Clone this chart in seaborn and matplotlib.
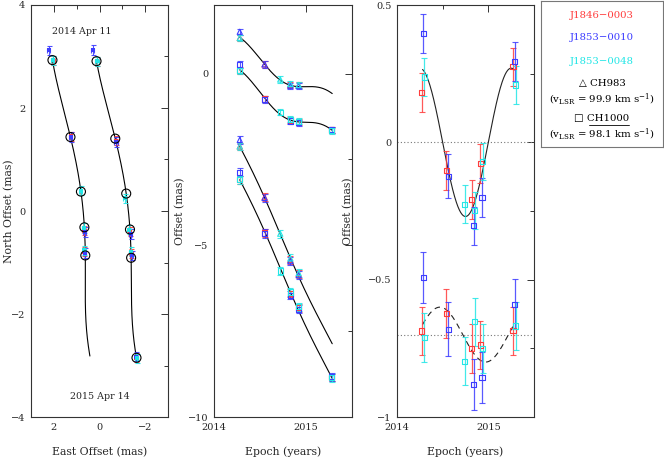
import numpy as np
import pandas as pd
import matplotlib
matplotlib.use("Agg")
import matplotlib.pyplot as plt
import seaborn as sns
from matplotlib.ticker import MultipleLocator, FuncFormatter

# ---------------- data ----------------
epochs = [2014.28, 2014.55, 2014.72, 2014.83, 2014.92, 2015.28]
sources = ["J1846\u22120003", "J1853\u22120010", "J1853\u22120048"]

# epochs (indices) at which each reference source gives a position
epoch_idx_ch1000 = [[0, 1, 3, 4, 5], [0, 1, 3, 4, 5], [0, 2, 3, 4, 5]]
epoch_idx_ch983 = [[0, 1, 3, 4], [0, 1, 3, 4], [0, 2, 3, 4]]

# Panel 2 : East / North offsets (mas) per reference source
ch983_east = [[1.04, 0.27, -0.32, -0.34],
              [1.22, 0.27, -0.35, -0.36],
              [1.04, -0.17, -0.30, -0.33]]
ch983_north = [[-2.12, -3.60, -5.42, -5.84],
               [-1.93, -3.62, -5.46, -5.87],
               [-2.12, -4.66, -5.38, -5.81]]
ch1000_east = [[0.09, -0.74, -1.35, -1.40, -1.64],
               [0.27, -0.75, -1.38, -1.43, -1.63],
               [0.09, -1.12, -1.33, -1.39, -1.66]]
ch1000_north = [[-3.09, -4.64, -6.40, -6.82, -8.85],
                [-2.87, -4.66, -6.45, -6.86, -8.83],
                [-3.09, -5.75, -6.36, -6.79, -8.86]]

# Panel 3 : residuals after removing proper motion (mas)
resid_east = [[0.182, -0.102, -0.208, -0.077, 0.275],
              [0.397, -0.123, -0.304, -0.201, 0.294],
              [0.238, -0.225, -0.249, -0.069, 0.209]]
resid_north = [[0.013, 0.077, -0.051, -0.038, 0.014],
               [0.207, 0.019, -0.182, -0.157, 0.111],
               [-0.011, -0.097, 0.047, -0.050, 0.031]]
err_east = [[0.07, 0.07, 0.07, 0.07, 0.07],
            [0.07, 0.08, 0.07, 0.07, 0.07],
            [0.068, 0.068, 0.068, 0.068, 0.068]]
err_north = [[0.088, 0.088, 0.088, 0.088, 0.088],
             [0.092, 0.098, 0.092, 0.093, 0.09],
             [0.088, 0.088, 0.088, 0.088, 0.088]]

# fitted model (parallax + proper motion), parameters
parallax_east_amp = 0.27      # mas
parallax_east_peak = 2014.25  # yr
parallax_north_amp = 0.10     # mas
parallax_north_peak = 2014.47
t_ref = 2014.28
ch983_east_fit = (0.795, -1.63)    # (offset, proper motion mas/yr)
ch983_north_fit = (-2.157, -5.72)
ch1000_east_fit = (-0.155, -1.75)
ch1000_north_fit = (-3.127, -5.76)
model_start, model_end = 2014.28, 2015.285

# ---------------- styling / layout constants ----------------
colors = ["#ff3c3c", "#3c3cff", "#22e6e6"]
x_jitter = [-0.01, 0.01, 0.02]
north_base = -0.7
ch983_shift = (1.0, 5.05)     # display shift of the CH983 track in panel 1
ch1000_shift = (0.02, 6.0)

sns.set_style("white")
plt.rcParams['font.family'] = ['DejaVu Serif', 'DejaVu Sans']
plt.rcParams['mathtext.fontset'] = 'dejavuserif'

fig = plt.figure(figsize=(6.64, 4.61), dpi=100)
W, H = 664, 461
ax1 = fig.add_axes([31 / W, 44 / H, 137 / W, 412 / H])
ax2 = fig.add_axes([214 / W, 44 / H, 138 / W, 412 / H])
ax3 = fig.add_axes([397 / W, 44 / H, 137 / W, 412 / H])
axl = fig.add_axes([541 / W, (H - 147) / H, 122 / W, 146 / H])


def plx_e(t):
    return parallax_east_amp * np.cos(2 * np.pi * (np.asarray(t) - parallax_east_peak))


def plx_n(t):
    return parallax_north_amp * np.cos(2 * np.pi * (np.asarray(t) - parallax_north_peak))


def model(t, fit, plx):
    t = np.asarray(t)
    return fit[0] + fit[1] * (t - t_ref) + plx(t)


def minus_fmt(v, pos):
    s = f"{v:g}"
    return s.replace("-", "\u2212")


def style(ax):
    ax.tick_params(which='both', direction='in', top=True, right=True,
                   labelsize=7, pad=4, color='#333333')
    ax.tick_params(which='major', length=5, width=0.7)
    ax.tick_params(which='minor', length=3, width=0.7)
    for s in ax.spines.values():
        s.set_linewidth(0.8)
        s.set_color('#333333')


t_grid = np.linspace(model_start, model_end, 300)
lw_line = 0.8
xlab_y = -0.072

# ---------------- Panel 1 : sky track ----------------
tracks = [
    (ch983_east, ch983_north, epoch_idx_ch983, ch983_east_fit, ch983_north_fit, ch983_shift, 5),
    (ch1000_east, ch1000_north, epoch_idx_ch1000, ch1000_east_fit, ch1000_north_fit, ch1000_shift, 6),
]
for east, north, idxs, fe, fn, shift, n_circ in tracks:
    df = pd.DataFrame({"E": model(t_grid, fe, plx_e) + shift[0],
                       "N": model(t_grid, fn, plx_n) + shift[1]})
    sns.lineplot(data=df, x="E", y="N", sort=False, color='k', lw=lw_line,
                 ax=ax1, estimator=None)
    for k in range(3):
        n = len(east[k])
        ex = np.array(east[k]) + shift[0]
        ny = np.array(north[k]) + shift[1]
        ax1.errorbar(ex, ny, xerr=err_east[k][:n], yerr=err_north[k][:n], fmt='none',
                     ecolor=colors[k], elinewidth=0.8, capsize=1.8, capthick=0.8, alpha=0.9)
        sns.scatterplot(x=ex, y=ny, marker='s', s=9, color=colors[k],
                        edgecolor=colors[k], linewidth=0, ax=ax1, zorder=3)
    te = np.array(epochs[:n_circ])
    sns.scatterplot(x=model(te, fe, plx_e) + shift[0], y=model(te, fn, plx_n) + shift[1],
                    marker='o', s=42, facecolor='none', edgecolor='k', linewidth=0.8,
                    ax=ax1, zorder=4)

ax1.set_xlim(3, -3)
ax1.set_ylim(-4, 4)
ax1.xaxis.set_major_locator(MultipleLocator(2))
ax1.xaxis.set_minor_locator(MultipleLocator(1))
ax1.yaxis.set_major_locator(MultipleLocator(2))
ax1.yaxis.set_minor_locator(MultipleLocator(1))
ax1.xaxis.set_major_formatter(FuncFormatter(minus_fmt))
ax1.yaxis.set_major_formatter(FuncFormatter(minus_fmt))
ax1.set_xlabel("East Offset (mas)", fontsize=7.8)
ax1.set_ylabel("North Offset (mas)", fontsize=7.8)
ax1.xaxis.set_label_coords(0.5, xlab_y)
ax1.yaxis.set_label_coords(-0.125, 0.5)
ax1.text(0.37, 0.935, "2014 Apr 11", transform=ax1.transAxes, fontsize=6.8,
         ha='center', va='center')
ax1.text(0.5, 0.05, "2015 Apr 14", transform=ax1.transAxes, fontsize=6.8,
         ha='center', va='center')
style(ax1)

# ---------------- Panel 2 : offsets vs time ----------------
p2 = [
    (ch983_east, epoch_idx_ch983, ch983_east_fit, plx_e, '^', err_east),
    (ch1000_east, epoch_idx_ch1000, ch1000_east_fit, plx_e, 's', err_east),
    (ch983_north, epoch_idx_ch983, ch983_north_fit, plx_n, '^', err_north),
    (ch1000_north, epoch_idx_ch1000, ch1000_north_fit, plx_n, 's', err_north),
]
for vals, idxs, fit, plx, mk, errs in p2:
    df = pd.DataFrame({"t": t_grid, "y": model(t_grid, fit, plx)})
    sns.lineplot(data=df, x="t", y="y", color='k', lw=lw_line, ax=ax2, estimator=None)
    for k in range(3):
        tt = np.array([epochs[i] for i in idxs[k]])
        yy = np.array(vals[k])
        ax2.errorbar(tt, yy, yerr=np.array(errs[k][:len(yy)]) * 1.3, fmt='none',
                     ecolor=colors[k], elinewidth=0.8, capsize=2.2, capthick=0.8, alpha=0.85)
        sns.scatterplot(x=tt, y=yy, marker=mk, s=14, facecolor='none',
                        edgecolor=colors[k], linewidth=0.8, ax=ax2, zorder=3)

ax2.set_xlim(2014, 2015.5)
ax2.set_ylim(-10, 2)
ax2.xaxis.set_major_locator(MultipleLocator(1))
ax2.xaxis.set_minor_locator(MultipleLocator(0.5))
ax2.yaxis.set_major_locator(MultipleLocator(5))
ax2.yaxis.set_minor_locator(MultipleLocator(2.5))
ax2.xaxis.set_major_formatter(FuncFormatter(lambda v, p: f"{v:.0f}"))
ax2.yaxis.set_major_formatter(FuncFormatter(minus_fmt))
ax2.set_xlabel("Epoch (years)", fontsize=7.8)
ax2.set_ylabel("Offset (mas)", fontsize=7.8)
ax2.xaxis.set_label_coords(0.5, xlab_y)
ax2.yaxis.set_label_coords(-0.205, 0.5)
style(ax2)

# ---------------- Panel 3 : parallax signature ----------------
ax3.axhline(0, ls=(0, (1, 2)), color='#777777', lw=0.8)
ax3.axhline(north_base, ls=(0, (1, 2)), color='#777777', lw=0.8)
df = pd.DataFrame({"t": t_grid, "e": plx_e(t_grid), "n": plx_n(t_grid) + north_base})
sns.lineplot(data=df, x="t", y="e", color='#222222', lw=lw_line, ax=ax3, estimator=None)
sns.lineplot(data=df, x="t", y="n", color='#222222', lw=lw_line, ax=ax3,
             estimator=None, linestyle=(0, (5, 4)))
for k in range(3):
    tt = np.array([epochs[i] for i in epoch_idx_ch1000[k]]) + x_jitter[k]
    ye = np.array(resid_east[k])
    yn = np.array(resid_north[k]) + north_base
    for yy, ee in ((ye, err_east[k]), (yn, err_north[k])):
        ax3.errorbar(tt, yy, yerr=ee, fmt='none', ecolor=colors[k], elinewidth=0.9,
                     capsize=2.2, capthick=0.8, alpha=0.85)
        sns.scatterplot(x=tt, y=yy, marker='s', s=14, facecolor='none',
                        edgecolor=colors[k], linewidth=0.8, ax=ax3, zorder=3)

ax3.set_xlim(2014, 2015.5)
ax3.set_ylim(-1, 0.5)
ax3.xaxis.set_major_locator(MultipleLocator(1))
ax3.xaxis.set_minor_locator(MultipleLocator(0.5))
ax3.yaxis.set_major_locator(MultipleLocator(0.5))
ax3.yaxis.set_minor_locator(MultipleLocator(0.25))
ax3.xaxis.set_major_formatter(FuncFormatter(lambda v, p: f"{v:.0f}"))
ax3.yaxis.set_major_formatter(FuncFormatter(minus_fmt))
ax3.set_xlabel("Epoch (years)", fontsize=7.8)
ax3.set_ylabel("Offset (mas)", fontsize=7.8)
ax3.xaxis.set_label_coords(0.5, xlab_y)
ax3.yaxis.set_label_coords(-0.32, 0.5)
style(ax3)

# ---------------- legend box ----------------
axl.set_xticks([])
axl.set_yticks([])
for s in axl.spines.values():
    s.set_linewidth(0.8)
    s.set_color('#777777')
fs = 7.3
axl.text(0.5, 0.904, sources[0], color=colors[0], fontsize=fs, ha='center', va='center',
         transform=axl.transAxes)
axl.text(0.5, 0.747, sources[1], color=colors[1], fontsize=fs, ha='center', va='center',
         transform=axl.transAxes)
axl.text(0.5, 0.589, sources[2], color=colors[2], fontsize=fs, ha='center', va='center',
         transform=axl.transAxes)
axl.text(0.5, 0.432, "\u25b3 CH983", color='k', fontsize=fs, ha='center', va='center',
         transform=axl.transAxes)
axl.text(0.5, 0.325, r"(v$_{\rm LSR}$ = 99.9 km s$^{-1}$)", color='k', fontsize=fs,
         ha='center', va='center', transform=axl.transAxes)
axl.text(0.5, 0.192, "\u25a1 CH1000", color='k', fontsize=fs, ha='center', va='center',
         transform=axl.transAxes)
axl.plot([0.39, 0.72], [0.15, 0.15], color='k', lw=0.6, transform=axl.transAxes)
axl.text(0.5, 0.085, r"(v$_{\rm LSR}$ = 98.1 km s$^{-1}$)", color='k', fontsize=fs,
         ha='center', va='center', transform=axl.transAxes)

fig.savefig("out.png", dpi=100)
